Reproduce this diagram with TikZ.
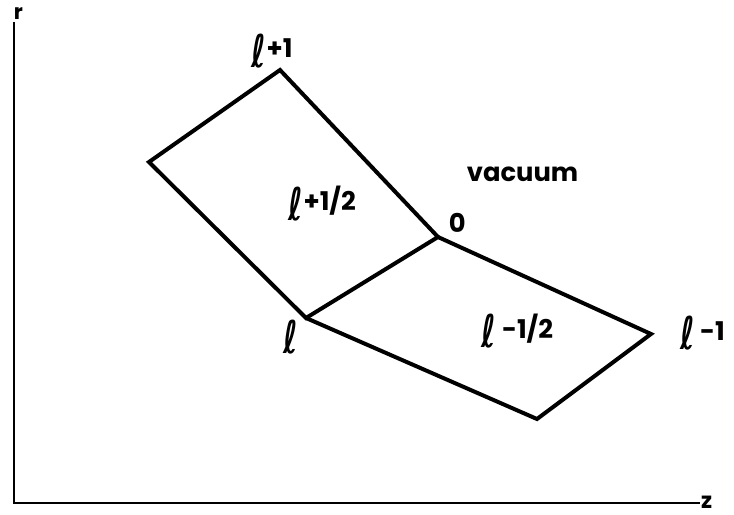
\documentclass[tikz,border=0pt]{standalone}
\usepackage{fontspec}
\setmainfont{Poppins}
\newfontfamily\symfont{DejaVu Sans}
\usepackage{graphicx}
\usetikzlibrary{positioning}
\newcommand{\ellsym}{\raisebox{-8pt}{\scalebox{1.2}[1.75]{\symfont ℓ}}}

\begin{document}
\begin{tikzpicture}[x=0.03cm, y=-0.03cm, line width=3.4pt, line join=miter,
  lbl/.style={anchor=base west, inner sep=0pt, font=\fontsize{22}{26}\selectfont\bfseries}]
  \useasboundingbox (0,0) rectangle (734,515);

  % axes
  \coordinate (rtop) at (14,22);
  \coordinate (orig) at (14,503);
  \coordinate (zend) at (700,503);
  \draw[line width=2.4pt] (rtop) -- (orig) -- (zend);
  \node[lbl, font=\fontsize{18}{20}\selectfont\bfseries] (rlab) at (12,20) {r};
  \node[lbl, font=\fontsize{19}{22}\selectfont\bfseries] (zlab) at (699,508) {z};

  % cell corners
  \coordinate (top)   at (280,70);
  \coordinate (left)  at (149,162);
  \coordinate (ell)   at (306,318);
  \coordinate (zero)  at (438,237);
  \coordinate (right) at (651,334);
  \coordinate (bot)   at (537,419);

  \draw (top) -- (left) -- (ell) -- (zero) -- cycle;
  \draw (zero) -- (right) -- (bot) -- (ell);

  % labels
  \node[lbl] (ltop)   at (250,58)  {\ellsym+1};
  \node[lbl] (lup)    at (287,211) {\ellsym+1/2};
  \node[lbl] (vac)    at (465,182) {vacuum};
  \node[lbl] (lzero)  at (447,233) {0};
  \node[lbl] (lell)   at (282,344) {\ellsym};
  \node[lbl] (ldown)  at (480,338) {\ellsym\ -1/2};
  \node[lbl] (lright) at (678,340) {\ellsym\ -1};
\end{tikzpicture}
\end{document}
